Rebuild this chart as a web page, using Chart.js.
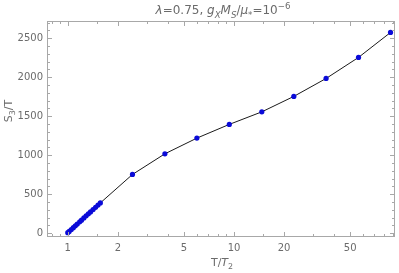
<!DOCTYPE html>
<html>
<head>
<meta charset="utf-8">
<script src="https://cdn.jsdelivr.net/npm/chart.js@4/dist/chart.umd.min.js"></script>
<style>
html,body{margin:0;padding:0;background:#fff;}
#wrap{width:399px;height:273px;position:relative;}
</style>
</head>
<body>
<div id="wrap"><canvas id="c" width="399" height="273"></canvas></div>
<script>
// Data
const tOverT2 = [1.0, 1.02, 1.05, 1.08, 1.11, 1.14, 1.18, 1.21, 1.25, 1.29, 1.33, 1.37, 1.42, 1.47, 1.52, 1.57,
                 2.45, 3.84, 5.98, 9.37, 14.7, 22.9, 35.8, 56.1, 87.4];
const s3OverT = [5, 22, 46, 70, 93, 116, 145, 166, 194, 221, 247, 272, 302, 331, 360, 387,
                 752, 1017, 1218, 1394, 1555, 1753, 1983, 2253, 2573];
const xTickLabels = [1, 2, 5, 10, 20, 50];
const xMinorTicks = [0.8, 0.9, 1.5, 3, 4, 6, 7, 8, 9, 15, 30, 40, 60, 70, 80, 90];
const yTickLabels = [0, 500, 1000, 1500, 2000, 2500];
const yMinorStep = 100;

const GRAY = '#6b6b6b';
const FRAME = '#a8a8a8';
const FONT = '"DejaVu Sans", "Liberation Sans", sans-serif';

function drawRich(ctx, segs, x, y, size, align) {
  // segs: [text, italic, shift(-1 sub, 1 sup, 0 base)]
  const measure = s => {
    const fs = s[2] ? size * 0.72 : size;
    ctx.font = (s[1] ? 'italic ' : '') + fs + 'px ' + FONT;
    return ctx.measureText(s[0]).width;
  };
  let total = 0;
  segs.forEach(s => total += measure(s));
  let cx = align === 'center' ? x - total / 2 : x;
  segs.forEach(s => {
    const fs = s[2] ? size * 0.72 : size;
    ctx.font = (s[1] ? 'italic ' : '') + fs + 'px ' + FONT;
    const dy = s[2] === -1 ? size * 0.3 : (s[2] === 1 ? -size * 0.42 : 0);
    ctx.fillText(s[0], cx, y + dy);
    cx += ctx.measureText(s[0]).width;
  });
}

const framePlugin = {
  id: 'frame',
  afterDraw(chart) {
    const ctx = chart.ctx;
    const a = chart.chartArea;
    const xs = chart.scales.x, ys = chart.scales.y;
    ctx.save();
    ctx.strokeStyle = FRAME;
    ctx.lineWidth = 1;
    ctx.strokeRect(Math.round(a.left) + 0.5, Math.round(a.top) + 0.5,
                   Math.round(a.right - a.left) - 1, Math.round(a.bottom - a.top) - 1);
    ctx.beginPath();
    const xt = (v, len) => {
      const px = Math.round(xs.getPixelForValue(v)) + 0.5;
      if (px < a.left || px > a.right) return;
      ctx.moveTo(px, a.bottom); ctx.lineTo(px, a.bottom - len);
      ctx.moveTo(px, a.top); ctx.lineTo(px, a.top + len);
    };
    const yt = (v, len) => {
      const py = Math.round(ys.getPixelForValue(v)) + 0.5;
      if (py < a.top || py > a.bottom) return;
      ctx.moveTo(a.left, py); ctx.lineTo(a.left + len, py);
      ctx.moveTo(a.right, py); ctx.lineTo(a.right - len, py);
    };
    xTickLabels.forEach(v => xt(v, 5));
    xMinorTicks.forEach(v => xt(v, 3));
    for (let v = 0; v <= ys.max; v += yMinorStep) yt(v, v % 500 === 0 ? 5 : 3);
    ctx.stroke();

    ctx.fillStyle = GRAY;
    ctx.textBaseline = 'alphabetic';
    const cxp = (a.left + a.right) / 2;
    // Title
    drawRich(ctx, [['λ', true, 0], ['=0.75, ', false, 0], ['g', true, 0], ['X', true, -1],
                   ['M', true, 0], ['S', true, -1], ['/', false, 0], ['μ', true, 0], ['*', false, -1],
                   ['=10', false, 0], ['−6', false, 1]], cxp + 2, 14, 12, 'center');
    // X axis label
    drawRich(ctx, [['T/', false, 0], ['T', true, 0], ['2', false, -1]], cxp + 1, 266, 11, 'center');
    // Y axis label
    ctx.save();
    ctx.translate(12, 111);
    ctx.rotate(-Math.PI / 2);
    drawRich(ctx, [['S', false, 0], ['3', false, -1], ['/T', false, 0]], 0, 0, 11, 'center');
    ctx.restore();
    ctx.restore();
  }
};

new Chart(document.getElementById('c'), {
  type: 'line',
  data: {
    datasets: [{
      data: tOverT2.map((t, i) => ({x: t, y: s3OverT[i]})),
      borderColor: '#1a1a1a',
      borderWidth: 1,
      pointBackgroundColor: '#0a0ad8',
      pointBorderColor: '#0a0ad8',
      pointRadius: 2.6,
      pointBorderWidth: 0,
      tension: 0
    }]
  },
  options: {
    responsive: false,
    animation: false,
    layout: {padding: {top: 21, right: 4, left: 0, bottom: 0}},
    plugins: {legend: {display: false}, tooltip: {enabled: false}, title: {display: false}},
    scales: {
      x: {
        type: 'logarithmic',
        min: 0.75, max: 93,
        grid: {display: false, drawTicks: false},
        border: {display: false},
        afterBuildTicks: s => { s.ticks = xTickLabels.map(v => ({value: v})); },
        afterFit: s => { s.height = 36; },
        ticks: {
          autoSkip: false, maxRotation: 0, padding: 5,
          color: GRAY, font: {family: FONT, size: 10},
          callback: v => String(v)
        }
      },
      y: {
        type: 'linear',
        min: -50, max: 2720,
        grid: {display: false, drawTicks: false},
        border: {display: false},
        afterBuildTicks: s => { s.ticks = yTickLabels.map(v => ({value: v})); },
        afterFit: s => { s.width = 47; },
        ticks: {
          padding: 4,
          color: GRAY, font: {family: FONT, size: 10},
          callback: v => String(v)
        }
      }
    }
  },
  plugins: [framePlugin]
});
</script>
</body>
</html>
